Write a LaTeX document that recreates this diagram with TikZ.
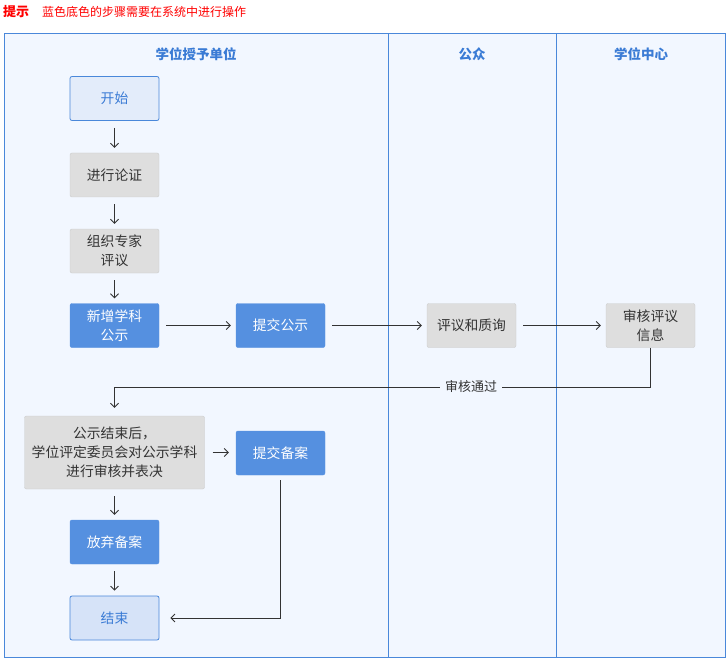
\documentclass[tikz,border=0pt]{standalone}
\usepackage{fontspec}
\setmainfont{Noto Sans CJK SC}
\usetikzlibrary{arrows.meta,positioning}

\definecolor{laneBlue}{HTML}{4A88DA}
\definecolor{laneFill}{HTML}{F2F7FF}
\definecolor{stepBlue}{HTML}{5590E0}
\definecolor{startFill}{HTML}{E3ECFA}
\definecolor{endFill}{HTML}{D6E3F8}
\definecolor{grayFill}{HTML}{DEDEDE}
\definecolor{grayLine}{HTML}{CCCCCC}
\definecolor{textDark}{HTML}{333333}
\definecolor{headBlue}{HTML}{3A7BD5}

\tikzset{
  stepbox/.style={rounded corners=2pt, minimum width=89pt, minimum height=44pt,
    align=center, inner sep=2pt},
  grayBox/.style={stepbox, fill=grayFill, draw=grayLine, text=textDark},
  blueBox/.style={stepbox, fill=stepBlue, draw=stepBlue, text=white},
  endsBox/.style={stepbox, draw=laneBlue, line width=0.8pt, text=headBlue},
  flow/.style={draw=textDark, line width=0.8pt, -{Straight Barb[length=4pt,width=8pt]},
    shorten <=7pt, shorten >=5pt},
  laneHead/.style={font=\fontsize{13.5}{16}\bfseries\selectfont, text=headBlue}
}

\begin{document}
\begin{tikzpicture}[x=1pt, y=-1pt, font=\fontsize{13.8}{19}\selectfont]
        \useasboundingbox (0,0) rectangle (727,660);
        % hint line
        \node[anchor=west, text=red, font=\fontsize{13}{15}\bfseries\selectfont, inner sep=0pt]
            (nHint) at (3,12) {提示};
        \node[anchor=west, text=red, font=\fontsize{12}{14}\selectfont, inner sep=0pt]
            (nHintText) at (42,12) {蓝色底色的步骤需要在系统中进行操作};

        % lanes
        \draw[laneBlue, fill=laneFill] (4.5,33.5) rectangle (725.5,657);
        \draw[laneBlue] (388,33.5) -- (388,657);
        \draw[laneBlue] (556,33.5) -- (556,657);
        \node[laneHead] (nLaneA) at (196,54) {学位授予单位};
        \node[laneHead] (nLaneB) at (472,54) {公众};
        \node[laneHead] (nLaneC) at (641,54) {学位中心};

        % steps
        \node[endsBox, fill=startFill] (nStart) at (114.5,98.5) {开始};
        \node[grayBox] (nProve) at (114.5,175) {进行论证};
        \node[grayBox] (nExpert) at (114.5,251) {组织专家\\评议};
        \node[blueBox] (nNew) at (114.5,325.5) {新增学科\\公示};
        \node[blueBox] (nSubmit) at (280.5,325.5) {提交公示};
        \node[grayBox] (nReview) at (471.5,325.5) {评议和质询};
        \node[grayBox] (nCheckInfo) at (650.5,325.5) {审核评议\\信息};
        \node[grayBox, minimum width=180pt, minimum height=73pt] (nAfter) at (114.5,452.5)
            {公示结束后，\\学位评定委员会对公示学科\\进行审核并表决};
        \node[blueBox] (nFile) at (280.5,453) {提交备案};
        \node[blueBox] (nGiveUp) at (114.5,542) {放弃备案};
        \node[endsBox, fill=endFill] (nEnd) at (114.5,618) {结束};
        \coordinate (cTurn) at (114.5,387);

        % connectors
        \foreach \u/\v in {nStart/nProve, nProve/nExpert, nExpert/nNew, nNew/nSubmit,
            nSubmit/nReview, nReview/nCheckInfo, nAfter/nGiveUp, nGiveUp/nEnd}
        {
            \draw[flow] (\u) -- (\v);
        };
        \draw[flow, shorten <=0pt, shorten >=8pt] (nCheckInfo.south) |- (cTurn) -- (nAfter.north);
        \node[fill=laneFill, text=textDark, inner xsep=5pt, font=\fontsize{13}{15}\selectfont]
            (nPass) at (471,387) {审核通过};
        \draw[flow, shorten <=8pt, shorten >=7pt] (nAfter.east) -- (nAfter.east -| nFile.west);
        \draw[flow, shorten <=5pt, shorten >=11pt] (nFile.south) |- (nEnd.east);
\end{tikzpicture}
\end{document}
